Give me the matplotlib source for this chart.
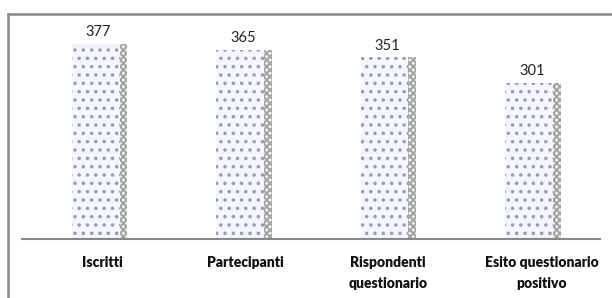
import matplotlib.pyplot as plt
from matplotlib.lines import Line2D
from matplotlib.transforms import ScaledTranslation
import numpy as np

categories = ["Iscritti", "Partecipanti", "Rispondenti\nquestionario", "Esito questionario\npositivo"]
values = [377, 365, 351, 301]

plt.rcParams['hatch.linewidth'] = 1.3

fig = plt.figure(figsize=(6.12, 2.98), dpi=100)
ax = fig.add_axes([0.036, 0.198, 0.944, 0.735])

x = np.arange(len(categories))
front_w = 0.33
side_w = 0.055
front_x = x + 0.01
ax.bar(front_x, values, width=front_w, color='#f3f5fa', edgecolor='#929cb2',
       hatch='..', linewidth=0)
ax.bar(front_x + front_w / 2 + side_w / 2, values, width=side_w, color='#eeeeee',
       edgecolor='#a0a0a0', hatch='xxxxx', linewidth=0)

for xi, v in zip(x, values):
    ax.text(xi + 0.03, v + 9, str(v), ha='center', va='bottom',
            fontsize=10.5, family='Lato', color='#222222')

ax.set_xlim(-0.5, len(categories) - 0.5)
ax.set_ylim(0, 423)
ax.set_yticks([])
ax.set_xticks(x)
ax.set_xticklabels(categories, fontsize=10, fontweight='heavy', family='Lato',
                   linespacing=1.75, color='#111111')
ax.tick_params(axis='x', length=0, pad=12)
shifts = [8, 7, 5, 14]
for lab, dx in zip(ax.get_xticklabels(), shifts):
    lab.set_transform(lab.get_transform() + ScaledTranslation(dx / 100, 0, fig.dpi_scale_trans))
for s in ['top', 'right', 'left']:
    ax.spines[s].set_visible(False)
ax.spines['bottom'].set_color('#888888')
ax.spines['bottom'].set_linewidth(1.5)

# outer frame (cropped on the right and bottom)
fig.add_artist(Line2D([0.013, 1.0], [0.953, 0.953], color='#888888', lw=1.8,
                      transform=fig.transFigure))
fig.add_artist(Line2D([0.013, 0.013], [0.0, 0.953], color='#888888', lw=1.8,
                      transform=fig.transFigure))

fig.savefig('out.png', dpi=100)
